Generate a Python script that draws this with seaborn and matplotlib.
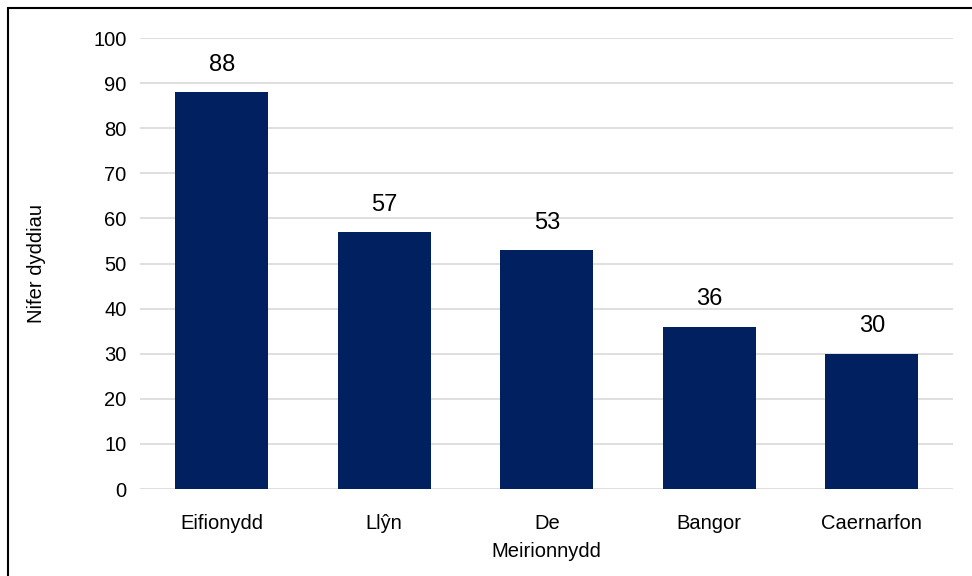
import matplotlib
matplotlib.use("Agg")
import matplotlib.pyplot as plt
from matplotlib.patches import Rectangle
import pandas as pd
import seaborn as sns

# Data
areas = ["Eifionydd", "Llŷn", "De\nMeirionnydd", "Bangor", "Caernarfon"]
days = [88, 57, 53, 36, 30]
y_ticks = list(range(0, 101, 10))

df = pd.DataFrame({"area": areas, "days": days})

sns.set_theme(style="white")
plt.rcParams["font.family"] = ["Liberation Sans", "DejaVu Sans"]

fig = plt.figure(figsize=(9.72, 5.76), dpi=100)
ax = fig.add_axes([0.1445, 0.151, 0.836, 0.783])

sns.barplot(data=df, x="area", y="days", color="#002060", width=0.57,
            saturation=1, linewidth=0, ax=ax, zorder=3)

ax.set_ylim(0, 100)
ax.set_yticks(y_ticks)
ax.set_xlim(-0.5, len(areas) - 0.5)
ax.grid(axis="y", color="#d9d9d9", linewidth=1.2, zorder=0)
for s in ax.spines.values():
    s.set_visible(False)
ax.tick_params(axis="both", length=0, labelsize=14.5, colors="#000000", pad=10)
ax.tick_params(axis="x", pad=18)
for lbl in ax.get_xticklabels():
    lbl.set_linespacing(1.6)
ax.set_xlabel("")
ax.set_ylabel("Nifer dyddiau", fontsize=14.5, labelpad=34, color="#000000")

# value labels above bars
for i, v in enumerate(days):
    ax.text(i, v + 3.6, str(v), ha="center", va="bottom", fontsize=17,
            color="#000000")

# outer chart frame (partly outside picture)
fig.patches.append(Rectangle((8 / 972, -0.1), 1.2, (576 - 8) / 576 + 0.1,
                             transform=fig.transFigure, fill=False,
                             edgecolor="black", linewidth=1.5))

fig.savefig("out.png", dpi=100)
